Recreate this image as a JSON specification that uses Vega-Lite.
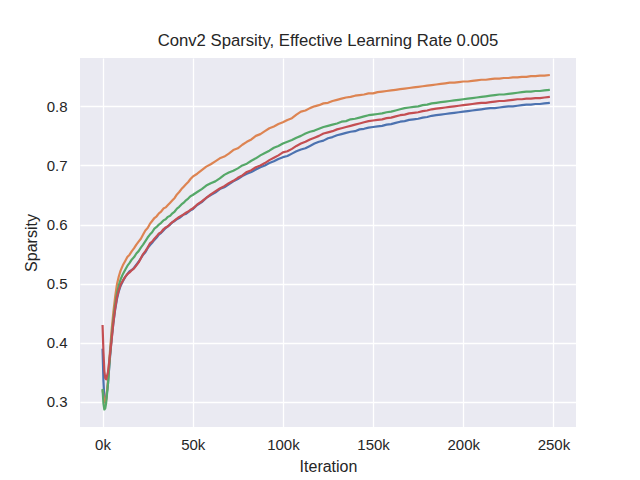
{
  "$schema": "https://vega.github.io/schema/vega-lite/v6.json",
  "autosize": "none",
  "padding": {"left": 80, "top": 58, "right": 64, "bottom": 53},
  "width": 496,
  "height": 369,
  "background": "white",
  "title": {
    "text": "Conv2 Sparsity, Effective Learning Rate 0.005",
    "font": "Liberation Sans",
    "fontSize": 16.7,
    "fontWeight": "normal",
    "color": "#262626",
    "offset": 8
  },
  "data": {
    "values": [
      {"it": 0, "b": 0.390, "o": 0.320, "g": 0.322, "r": 0.430},
      {"it": 500, "b": 0.335, "o": 0.310, "g": 0.297, "r": 0.385},
      {"it": 1000, "b": 0.306, "o": 0.301, "g": 0.287, "r": 0.352},
      {"it": 1500, "b": 0.300, "o": 0.298, "g": 0.289, "r": 0.340},
      {"it": 2000, "b": 0.305, "o": 0.303, "g": 0.298, "r": 0.338},
      {"it": 3000, "b": 0.330, "o": 0.336, "g": 0.330, "r": 0.350},
      {"it": 4000, "b": 0.370, "o": 0.381, "g": 0.374, "r": 0.376},
      {"it": 5000, "b": 0.405, "o": 0.420, "g": 0.410, "r": 0.404},
      {"it": 6000, "b": 0.433, "o": 0.452, "g": 0.440, "r": 0.434},
      {"it": 7000, "b": 0.456, "o": 0.478, "g": 0.465, "r": 0.458},
      {"it": 8000, "b": 0.474, "o": 0.499, "g": 0.484, "r": 0.477},
      {"it": 9000, "b": 0.487, "o": 0.512, "g": 0.497, "r": 0.489},
      {"it": 10000, "b": 0.496, "o": 0.522, "g": 0.507, "r": 0.498},
      {"it": 11250, "b": 0.504, "o": 0.531, "g": 0.516, "r": 0.505},
      {"it": 12500, "b": 0.511, "o": 0.538, "g": 0.523, "r": 0.511},
      {"it": 13750, "b": 0.516, "o": 0.545, "g": 0.530, "r": 0.516},
      {"it": 15000, "b": 0.521, "o": 0.549, "g": 0.535, "r": 0.519},
      {"it": 16250, "b": 0.523, "o": 0.555, "g": 0.541, "r": 0.523},
      {"it": 17500, "b": 0.527, "o": 0.560, "g": 0.545, "r": 0.526},
      {"it": 18750, "b": 0.532, "o": 0.566, "g": 0.551, "r": 0.531},
      {"it": 20000, "b": 0.537, "o": 0.571, "g": 0.555, "r": 0.536},
      {"it": 21250, "b": 0.543, "o": 0.576, "g": 0.561, "r": 0.543},
      {"it": 22500, "b": 0.549, "o": 0.583, "g": 0.566, "r": 0.550},
      {"it": 23750, "b": 0.553, "o": 0.590, "g": 0.572, "r": 0.555},
      {"it": 25000, "b": 0.560, "o": 0.594, "g": 0.578, "r": 0.561},
      {"it": 26250, "b": 0.565, "o": 0.601, "g": 0.583, "r": 0.568},
      {"it": 27500, "b": 0.569, "o": 0.606, "g": 0.587, "r": 0.571},
      {"it": 28750, "b": 0.574, "o": 0.611, "g": 0.593, "r": 0.576},
      {"it": 30000, "b": 0.578, "o": 0.614, "g": 0.596, "r": 0.580},
      {"it": 31250, "b": 0.583, "o": 0.619, "g": 0.600, "r": 0.585},
      {"it": 32500, "b": 0.586, "o": 0.622, "g": 0.603, "r": 0.587},
      {"it": 33750, "b": 0.590, "o": 0.627, "g": 0.607, "r": 0.592},
      {"it": 35000, "b": 0.594, "o": 0.629, "g": 0.609, "r": 0.595},
      {"it": 36250, "b": 0.597, "o": 0.633, "g": 0.613, "r": 0.597},
      {"it": 37500, "b": 0.600, "o": 0.637, "g": 0.615, "r": 0.601},
      {"it": 38750, "b": 0.604, "o": 0.641, "g": 0.619, "r": 0.604},
      {"it": 40000, "b": 0.606, "o": 0.645, "g": 0.622, "r": 0.607},
      {"it": 41250, "b": 0.609, "o": 0.651, "g": 0.627, "r": 0.610},
      {"it": 42500, "b": 0.611, "o": 0.655, "g": 0.630, "r": 0.613},
      {"it": 43750, "b": 0.614, "o": 0.660, "g": 0.634, "r": 0.615},
      {"it": 45000, "b": 0.617, "o": 0.664, "g": 0.637, "r": 0.617},
      {"it": 46250, "b": 0.618, "o": 0.668, "g": 0.641, "r": 0.620},
      {"it": 47500, "b": 0.621, "o": 0.672, "g": 0.644, "r": 0.622},
      {"it": 48750, "b": 0.624, "o": 0.677, "g": 0.648, "r": 0.625},
      {"it": 50000, "b": 0.626, "o": 0.681, "g": 0.650, "r": 0.627},
      {"it": 52500, "b": 0.633, "o": 0.686, "g": 0.655, "r": 0.634},
      {"it": 55000, "b": 0.638, "o": 0.692, "g": 0.660, "r": 0.639},
      {"it": 57500, "b": 0.645, "o": 0.698, "g": 0.666, "r": 0.645},
      {"it": 60000, "b": 0.650, "o": 0.702, "g": 0.670, "r": 0.651},
      {"it": 62500, "b": 0.654, "o": 0.707, "g": 0.673, "r": 0.656},
      {"it": 65000, "b": 0.660, "o": 0.712, "g": 0.678, "r": 0.661},
      {"it": 67500, "b": 0.663, "o": 0.715, "g": 0.684, "r": 0.665},
      {"it": 70000, "b": 0.668, "o": 0.720, "g": 0.688, "r": 0.670},
      {"it": 72500, "b": 0.673, "o": 0.726, "g": 0.691, "r": 0.674},
      {"it": 75000, "b": 0.677, "o": 0.729, "g": 0.695, "r": 0.679},
      {"it": 77500, "b": 0.682, "o": 0.735, "g": 0.700, "r": 0.683},
      {"it": 80000, "b": 0.686, "o": 0.740, "g": 0.703, "r": 0.689},
      {"it": 82500, "b": 0.689, "o": 0.744, "g": 0.708, "r": 0.692},
      {"it": 85000, "b": 0.693, "o": 0.750, "g": 0.712, "r": 0.697},
      {"it": 87500, "b": 0.697, "o": 0.753, "g": 0.717, "r": 0.700},
      {"it": 90000, "b": 0.700, "o": 0.758, "g": 0.721, "r": 0.704},
      {"it": 92500, "b": 0.704, "o": 0.763, "g": 0.725, "r": 0.709},
      {"it": 95000, "b": 0.707, "o": 0.766, "g": 0.730, "r": 0.713},
      {"it": 97500, "b": 0.711, "o": 0.770, "g": 0.733, "r": 0.717},
      {"it": 100000, "b": 0.714, "o": 0.773, "g": 0.737, "r": 0.722},
      {"it": 102500, "b": 0.716, "o": 0.777, "g": 0.740, "r": 0.724},
      {"it": 105000, "b": 0.720, "o": 0.780, "g": 0.743, "r": 0.728},
      {"it": 107500, "b": 0.724, "o": 0.786, "g": 0.747, "r": 0.733},
      {"it": 110000, "b": 0.727, "o": 0.791, "g": 0.750, "r": 0.737},
      {"it": 112500, "b": 0.729, "o": 0.793, "g": 0.754, "r": 0.740},
      {"it": 115000, "b": 0.733, "o": 0.797, "g": 0.757, "r": 0.744},
      {"it": 117500, "b": 0.737, "o": 0.800, "g": 0.759, "r": 0.747},
      {"it": 120000, "b": 0.740, "o": 0.802, "g": 0.762, "r": 0.750},
      {"it": 122500, "b": 0.742, "o": 0.805, "g": 0.765, "r": 0.754},
      {"it": 125000, "b": 0.746, "o": 0.806, "g": 0.767, "r": 0.756},
      {"it": 127500, "b": 0.748, "o": 0.809, "g": 0.769, "r": 0.758},
      {"it": 130000, "b": 0.751, "o": 0.811, "g": 0.771, "r": 0.761},
      {"it": 132500, "b": 0.753, "o": 0.813, "g": 0.774, "r": 0.763},
      {"it": 135000, "b": 0.755, "o": 0.815, "g": 0.775, "r": 0.765},
      {"it": 137500, "b": 0.757, "o": 0.816, "g": 0.778, "r": 0.767},
      {"it": 140000, "b": 0.758, "o": 0.818, "g": 0.779, "r": 0.769},
      {"it": 142500, "b": 0.761, "o": 0.819, "g": 0.781, "r": 0.771},
      {"it": 145000, "b": 0.762, "o": 0.820, "g": 0.783, "r": 0.773},
      {"it": 147500, "b": 0.764, "o": 0.822, "g": 0.785, "r": 0.775},
      {"it": 150000, "b": 0.765, "o": 0.822, "g": 0.786, "r": 0.776},
      {"it": 152500, "b": 0.766, "o": 0.824, "g": 0.787, "r": 0.777},
      {"it": 155000, "b": 0.767, "o": 0.825, "g": 0.788, "r": 0.778},
      {"it": 157500, "b": 0.769, "o": 0.826, "g": 0.790, "r": 0.780},
      {"it": 160000, "b": 0.770, "o": 0.827, "g": 0.791, "r": 0.781},
      {"it": 162500, "b": 0.772, "o": 0.828, "g": 0.793, "r": 0.783},
      {"it": 165000, "b": 0.774, "o": 0.829, "g": 0.795, "r": 0.785},
      {"it": 167500, "b": 0.775, "o": 0.830, "g": 0.797, "r": 0.786},
      {"it": 170000, "b": 0.777, "o": 0.831, "g": 0.798, "r": 0.788},
      {"it": 172500, "b": 0.778, "o": 0.832, "g": 0.799, "r": 0.789},
      {"it": 175000, "b": 0.779, "o": 0.833, "g": 0.800, "r": 0.790},
      {"it": 177500, "b": 0.781, "o": 0.834, "g": 0.802, "r": 0.792},
      {"it": 180000, "b": 0.782, "o": 0.835, "g": 0.803, "r": 0.793},
      {"it": 182500, "b": 0.784, "o": 0.836, "g": 0.805, "r": 0.795},
      {"it": 185000, "b": 0.785, "o": 0.837, "g": 0.806, "r": 0.796},
      {"it": 187500, "b": 0.786, "o": 0.838, "g": 0.807, "r": 0.797},
      {"it": 190000, "b": 0.787, "o": 0.839, "g": 0.808, "r": 0.798},
      {"it": 192500, "b": 0.788, "o": 0.840, "g": 0.809, "r": 0.799},
      {"it": 195000, "b": 0.789, "o": 0.840, "g": 0.810, "r": 0.800},
      {"it": 197500, "b": 0.790, "o": 0.841, "g": 0.811, "r": 0.801},
      {"it": 200000, "b": 0.791, "o": 0.842, "g": 0.812, "r": 0.802},
      {"it": 202500, "b": 0.792, "o": 0.842, "g": 0.813, "r": 0.803},
      {"it": 205000, "b": 0.793, "o": 0.843, "g": 0.814, "r": 0.804},
      {"it": 207500, "b": 0.794, "o": 0.844, "g": 0.815, "r": 0.805},
      {"it": 210000, "b": 0.795, "o": 0.845, "g": 0.816, "r": 0.806},
      {"it": 212500, "b": 0.796, "o": 0.845, "g": 0.817, "r": 0.806},
      {"it": 215000, "b": 0.797, "o": 0.846, "g": 0.818, "r": 0.807},
      {"it": 217500, "b": 0.797, "o": 0.847, "g": 0.819, "r": 0.808},
      {"it": 220000, "b": 0.798, "o": 0.847, "g": 0.820, "r": 0.809},
      {"it": 222500, "b": 0.799, "o": 0.848, "g": 0.820, "r": 0.809},
      {"it": 225000, "b": 0.800, "o": 0.848, "g": 0.821, "r": 0.810},
      {"it": 227500, "b": 0.800, "o": 0.849, "g": 0.822, "r": 0.811},
      {"it": 230000, "b": 0.801, "o": 0.849, "g": 0.823, "r": 0.812},
      {"it": 232500, "b": 0.802, "o": 0.850, "g": 0.824, "r": 0.812},
      {"it": 235000, "b": 0.803, "o": 0.850, "g": 0.825, "r": 0.813},
      {"it": 237500, "b": 0.803, "o": 0.851, "g": 0.825, "r": 0.813},
      {"it": 240000, "b": 0.804, "o": 0.851, "g": 0.826, "r": 0.814},
      {"it": 242500, "b": 0.804, "o": 0.852, "g": 0.826, "r": 0.814},
      {"it": 245000, "b": 0.805, "o": 0.852, "g": 0.827, "r": 0.815},
      {"it": 248000, "b": 0.806, "o": 0.853, "g": 0.828, "r": 0.816}
    ]
  },
  "transform": [
    {"fold": ["b", "o", "g", "r"], "as": ["run", "sparsity"]}
  ],
  "mark": {"type": "line", "strokeWidth": 2.2, "strokeJoin": "round"},
  "encoding": {
    "x": {
      "field": "it",
      "type": "quantitative",
      "title": "Iteration",
      "scale": {"domain": [-12500, 262500], "nice": false, "zero": false},
      "axis": {
        "values": [0, 50000, 100000, 150000, 200000, 250000],
        "labelExpr": "datum.value / 1000 + 'k'",
        "labelPadding": 10,
        "titlePadding": 6
      }
    },
    "y": {
      "field": "sparsity",
      "type": "quantitative",
      "title": "Sparsity",
      "scale": {"domain": [0.2574, 0.8818], "nice": false, "zero": false},
      "axis": {
        "values": [0.3, 0.4, 0.5, 0.6, 0.7, 0.8],
        "format": ".1f",
        "labelPadding": 13,
        "titlePadding": 7
      }
    },
    "color": {
      "field": "run",
      "type": "nominal",
      "legend": null,
      "scale": {"domain": ["b", "o", "g", "r"], "range": ["#4C72B0", "#DD8452", "#55A868", "#C44E52"]}
    },
    "order": {"field": "it", "type": "quantitative"}
  },
  "config": {
    "view": {"fill": "#EAEAF2", "stroke": null},
    "axis": {
      "domain": false,
      "ticks": false,
      "grid": true,
      "gridColor": "white",
      "gridWidth": 1.3,
      "labelFont": "Liberation Sans",
      "labelFontSize": 15,
      "labelColor": "#262626",
      "titleFont": "Liberation Sans",
      "titleFontSize": 16,
      "titleFontWeight": "normal",
      "titleColor": "#262626"
    }
  }
}
